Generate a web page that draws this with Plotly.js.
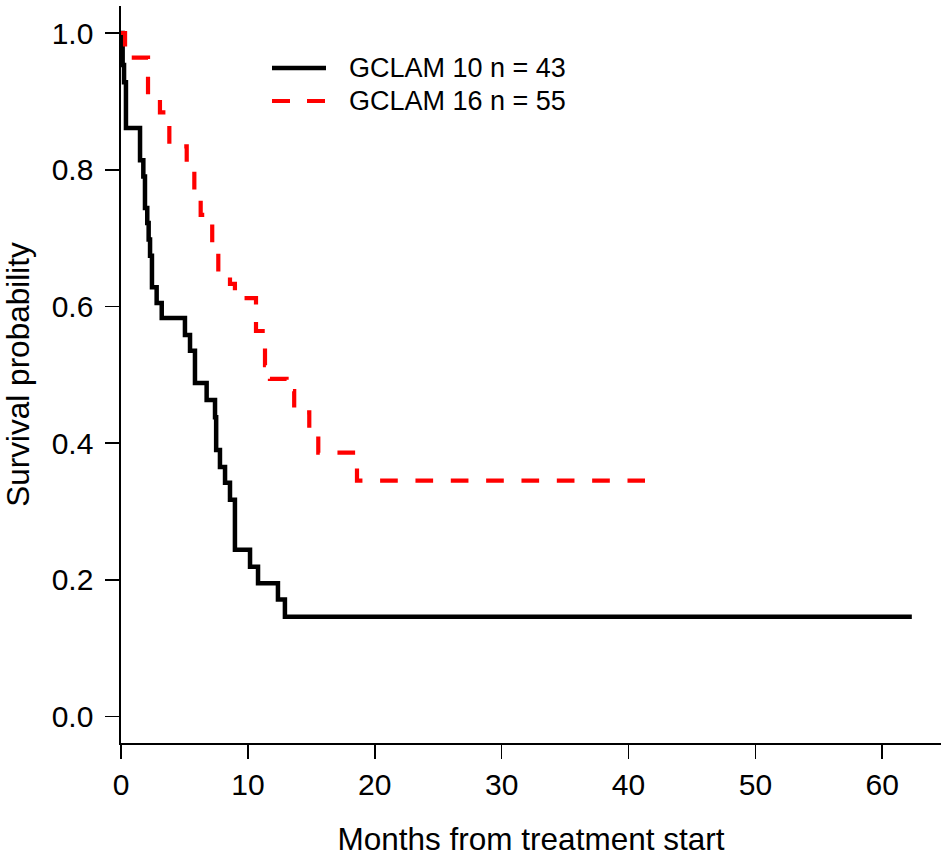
<!DOCTYPE html>
<html>
<head>
<meta charset="utf-8">
<script src="https://cdn.plot.ly/plotly-3.0.1.min.js"></script>
<style>html,body{margin:0;padding:0;background:#fff;}#chart{width:941px;height:857px;}</style>
</head>
<body>
<div id="chart"></div>
<script>
// GCLAM 10 (n = 43): Kaplan-Meier step points (months, survival)
const gclam10Time = [0, 0.13, 0.24, 0.39, 1.50, 1.76, 1.89, 2.07, 2.18, 2.29, 2.44, 2.81, 3.21, 5.04, 5.44, 5.83, 6.75, 7.41, 7.50, 7.80, 8.20, 8.59, 8.98, 10.17, 10.80, 12.37, 12.92, 62.33];
const gclam10Surv = [1.0, 0.953, 0.928, 0.861, 0.814, 0.790, 0.744, 0.722, 0.698, 0.674, 0.628, 0.605, 0.583, 0.558, 0.535, 0.488, 0.463, 0.438, 0.390, 0.365, 0.342, 0.317, 0.244, 0.219, 0.195, 0.171, 0.146, 0.146];

// GCLAM 16 (n = 55)
const gclam16Time = [0, 0.32, 2.13, 3.07, 3.81, 5.18, 5.78, 6.28, 7.19, 7.67, 8.59, 8.98, 10.64, 11.35, 11.74, 13.05, 13.65, 14.84, 15.55, 18.60, 41.3];
const gclam16Surv = [1.0, 0.964, 0.908, 0.884, 0.834, 0.809, 0.763, 0.734, 0.684, 0.647, 0.633, 0.612, 0.564, 0.514, 0.494, 0.476, 0.445, 0.410, 0.386, 0.345, 0.345];

const seriesNames = ['GCLAM 10 n = 43', 'GCLAM 16 n = 55'];
const xTicks = [0, 10, 20, 30, 40, 50, 60];
const yTicks = [0, 0.2, 0.4, 0.6, 0.8, 1.0];
const yTickText = ['0.0', '0.2', '0.4', '0.6', '0.8', '1.0'];
const xTitle = 'Months from treatment start';
const yTitle = 'Survival probability';

const FONT = 'Liberation Sans, Arial, Helvetica, sans-serif';

const traces = [
  {x: gclam10Time, y: gclam10Surv, name: seriesNames[0], type: 'scatter', mode: 'lines',
   line: {shape: 'hv', color: '#000000', width: 4.5}},
  {x: gclam16Time, y: gclam16Surv, name: seriesNames[1], type: 'scatter', mode: 'lines',
   line: {shape: 'hv', color: '#ff0000', width: 4.2, dash: '17.67px,17.67px'}}
];

// legend placement (paper coordinates)
const legX0 = (272 - 121) / 820, legX1 = (326 - 121) / 820, legTextX = (347 - 121) / 820;
const legY = [(743 - 68) / 737, (743 - 101) / 737];

const layout = {
  width: 941, height: 857,
  margin: {l: 121, r: 0, t: 6, b: 114, pad: 0},
  paper_bgcolor: '#ffffff', plot_bgcolor: '#ffffff',
  showlegend: false,
  font: {family: FONT, color: '#000000'},
  xaxis: {
    range: [0, 64.63], showgrid: false, zeroline: false,
    showline: true, linecolor: '#000000', linewidth: 1.6,
    ticks: 'outside', ticklen: 14, tickwidth: 1.6, tickcolor: '#000000',
    tickvals: xTicks, ticktext: xTicks.map(String),
    tickfont: {size: 30, family: FONT, color: '#000000'},
    ticklabelstandoff: 0,
    title: {text: xTitle, font: {size: 31.5, family: FONT, color: '#000000'}, standoff: 36},
    automargin: false
  },
  yaxis: {
    range: [-0.03877, 1.0395], showgrid: false, zeroline: false,
    showline: true, linecolor: '#000000', linewidth: 1.6,
    ticks: 'outside', ticklen: 14, tickwidth: 1.6, tickcolor: '#000000',
    tickvals: yTicks, ticktext: yTickText,
    tickfont: {size: 30, family: FONT, color: '#000000'},
    ticklabelstandoff: 6,
    title: {text: yTitle, font: {size: 31.5, family: FONT, color: '#000000'}, standoff: 14},
    automargin: false
  },
  shapes: [
    {type: 'line', xref: 'paper', yref: 'paper', x0: legX0, x1: legX1, y0: legY[0], y1: legY[0],
     line: {color: '#000000', width: 4.5}},
    {type: 'line', xref: 'paper', yref: 'paper', x0: legX0, x1: legX1, y0: legY[1], y1: legY[1],
     line: {color: '#ff0000', width: 4.2, dash: '18px,17px'}}
  ],
  annotations: seriesNames.map((s, i) => ({
    text: s, xref: 'paper', yref: 'paper', x: legTextX, y: legY[i],
    xanchor: 'left', yanchor: 'middle', showarrow: false,
    font: {size: 27, family: FONT, color: '#000000'}
  }))
};

Plotly.newPlot('chart', traces, layout, {staticPlot: true, displayModeBar: false});
</script>
</body>
</html>
